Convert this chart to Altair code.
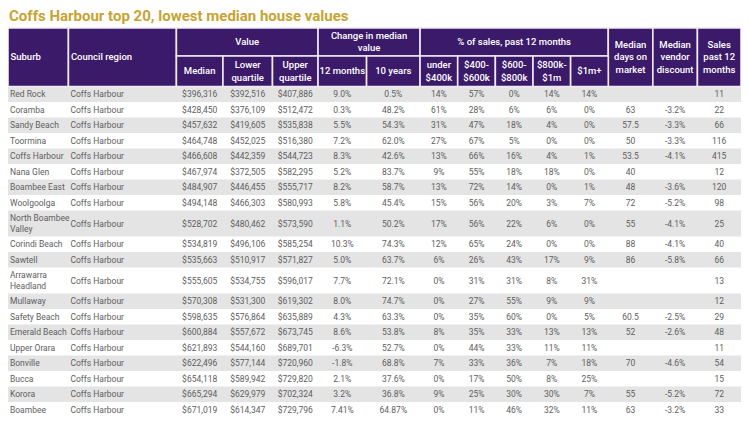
import altair as alt
import pandas as pd

# ---------------- data ----------------
title_text = "Coffs Harbour top 20, lowest median house values"

suburbs = ["Red Rock", "Coramba", "Sandy Beach", "Toormina", "Coffs Harbour", "Nana Glen",
           "Boambee East", "Woolgoolga", "North Boambee\nValley", "Corindi Beach", "Sawtell",
           "Arrawarra\nHeadland", "Mullaway", "Safety Beach", "Emerald Beach", "Upper Orara",
           "Bonville", "Bucca", "Korora", "Boambee"]
council = ["Coffs Harbour"] * 20
median = ["$396,316", "$428,450", "$457,632", "$464,748", "$466,608", "$467,974", "$484,907",
          "$494,148", "$528,702", "$534,819", "$535,663", "$555,605", "$570,308", "$598,635",
          "$600,884", "$621,893", "$622,496", "$654,118", "$665,294", "$671,019"]
lower_q = ["$392,516", "$376,109", "$419,605", "$452,025", "$442,359", "$372,505", "$446,455",
           "$466,303", "$480,462", "$496,106", "$510,917", "$534,755", "$531,300", "$576,864",
           "$557,672", "$544,160", "$577,144", "$589,942", "$629,979", "$614,347"]
upper_q = ["$407,886", "$512,472", "$535,838", "$516,380", "$544,723", "$582,295", "$555,717",
           "$580,993", "$573,590", "$585,254", "$571,827", "$596,017", "$619,302", "$635,889",
           "$673,745", "$689,701", "$720,960", "$729,820", "$702,324", "$729,796"]
chg_12m = ["9.0%", "0.3%", "5.5%", "7.2%", "8.3%", "5.2%", "8.2%", "5.8%", "1.1%", "10.3%",
           "5.0%", "7.7%", "8.0%", "4.3%", "8.6%", "-6.3%", "-1.8%", "2.1%", "3.2%", "7.41%"]
chg_10y = ["0.5%", "48.2%", "54.3%", "62.0%", "42.6%", "83.7%", "58.7%", "45.4%", "50.2%", "74.3%",
           "63.7%", "72.1%", "74.7%", "63.3%", "53.8%", "52.7%", "68.8%", "37.6%", "36.8%", "64.87%"]
under_400k = ["14%", "61%", "31%", "27%", "13%", "9%", "13%", "15%", "17%", "12%",
              "6%", "0%", "0%", "0%", "8%", "0%", "7%", "0%", "9%", "0%"]
s400_600k = ["57%", "28%", "47%", "67%", "66%", "55%", "72%", "56%", "56%", "65%",
             "26%", "31%", "27%", "35%", "35%", "44%", "33%", "17%", "25%", "11%"]
s600_800k = ["0%", "6%", "18%", "5%", "16%", "18%", "14%", "20%", "22%", "24%",
             "43%", "31%", "55%", "60%", "33%", "33%", "36%", "50%", "30%", "46%"]
s800k_1m = ["14%", "6%", "4%", "0%", "4%", "18%", "0%", "3%", "6%", "0%",
            "17%", "8%", "9%", "0%", "13%", "11%", "7%", "8%", "30%", "32%"]
s1m_plus = ["14%", "0%", "0%", "0%", "1%", "0%", "1%", "7%", "0%", "0%",
            "9%", "31%", "9%", "5%", "13%", "11%", "18%", "25%", "7%", "11%"]
days_on_market = ["", "63", "57.5", "50", "53.5", "40", "48", "72", "55", "88",
                  "86", "", "", "60.5", "52", "", "70", "", "55", "63"]
vendor_discount = ["", "-3.2%", "-3.3%", "-3.3%", "-4.1%", "", "-3.6%", "-5.2%", "-4.1%", "-4.1%",
                   "-5.8%", "", "", "-2.5%", "-2.6%", "", "-4.6%", "", "-5.2%", "-3.2%"]
sales_12m = ["11", "22", "66", "116", "415", "12", "120", "98", "25", "40",
             "66", "13", "12", "29", "48", "11", "54", "15", "72", "33"]

# header labels: (text, first column, last column)
header_top = [("Suburb", 0, 0), ("Council region", 1, 1), ("Value", 2, 4),
              ("Change in median\nvalue", 5, 6), ("% of sales, past 12 months", 7, 11),
              ("Median\ndays on\nmarket", 12, 12), ("Median\nvendor\ndiscount", 13, 13),
              ("Sales\npast 12\nmonths", 14, 14)]
header_sub = [("Median", 2), ("Lower\nquartile", 3), ("Upper\nquartile", 4), ("12 months", 5),
              ("10 years", 6), ("under\n$400k", 7), ("$400-\n$600k", 8), ("$600-\n$800k", 9),
              ("$800k-\n$1m", 10), ("$1m+", 11)]

# ---------------- layout ----------------
col_edges = [6, 67, 176, 223, 273, 319, 368, 422, 460, 498, 536, 574, 612, 657, 702, 746]
y_top, y_mid, y_bot = 28, 56, 86.5
row_single, row_double = 15.5, 26
HEAD_LH, CELL_LH = 12.5, 10.5
PURPLE = "#3c1a6a"
GREY_TEXT = "#5e5e5e"
SHADE = "#e4e4e4"
CELL_FONT = "Roboto"
HEAD_FONT = "Roboto"


def first_line_y(center, txt, lh):
    n = txt.count("\n") + 1
    return center - (n - 1) * lh / 2


columns = [suburbs, council, median, lower_q, upper_q, chg_12m, chg_10y, under_400k,
           s400_600k, s600_800k, s800k_1m, s1m_plus, days_on_market, vendor_discount, sales_12m]

band_recs, cell_left, cell_center = [], [], []
y = y_bot
for i in range(len(suburbs)):
    h = row_double if "\n" in suburbs[i] else row_single
    if i % 2 == 0:
        band_recs.append(dict(x=col_edges[0], x2=col_edges[-1], y=y, y2=y + h))
    ym = y + h / 2
    for j, col in enumerate(columns):
        txt = col[i]
        yy = first_line_y(ym, txt, CELL_LH)
        if j < 2:
            cell_left.append(dict(x=col_edges[j] + 2, y=yy, t=txt))
        else:
            cell_center.append(dict(x=(col_edges[j] + col_edges[j + 1]) / 2, y=yy, t=txt))
    y += h

head_rects, head_left, head_center = [], [], []
for txt, a, b in header_top:
    full = a < 2 or a >= 12
    y2 = y_bot if full else y_mid
    head_rects.append(dict(x=col_edges[a], x2=col_edges[b + 1], y=y_top, y2=y2))
    ym = first_line_y((y_top + y2) / 2, txt, HEAD_LH)
    if a < 2:
        head_left.append(dict(x=col_edges[a] + 2.5, y=ym, t=txt))
    else:
        head_center.append(dict(x=(col_edges[a] + col_edges[b + 1]) / 2, y=ym, t=txt))
for txt, a in header_sub:
    head_rects.append(dict(x=col_edges[a], x2=col_edges[a + 1], y=y_mid, y2=y_bot))
    head_center.append(dict(x=(col_edges[a] + col_edges[a + 1]) / 2,
                            y=first_line_y((y_mid + y_bot) / 2, txt, HEAD_LH), t=txt))

title_df = pd.DataFrame([dict(x=7, y=9, t=title_text)])

W, H = 733, 421
xs = alt.Scale(domain=[col_edges[0], col_edges[-1]], nice=False, zero=False)
ys = alt.Scale(domain=[8, 8 + H], reverse=True, nice=False, zero=False)
X = alt.X("x:Q", scale=xs, axis=None)
Y = alt.Y("y:Q", scale=ys, axis=None)

bands = alt.Chart(pd.DataFrame(band_recs)).mark_rect(fill=SHADE).encode(
    x=X, x2="x2:Q", y=Y, y2="y2:Q")
heads = alt.Chart(pd.DataFrame(head_rects)).mark_rect(
    fill=PURPLE, stroke="#efeaf5", strokeWidth=1.6).encode(x=X, x2="x2:Q", y=Y, y2="y2:Q")
htl = alt.Chart(pd.DataFrame(head_left)).mark_text(
    align="left", baseline="middle", color="white", fontSize=9.5, fontWeight=500,
    font=HEAD_FONT, lineBreak="\n", lineHeight=HEAD_LH).encode(x=X, y=Y, text="t:N")
htc = alt.Chart(pd.DataFrame(head_center)).mark_text(
    align="center", baseline="middle", color="white", fontSize=9.5, fontWeight=500,
    font=HEAD_FONT, lineBreak="\n", lineHeight=HEAD_LH).encode(x=X, y=Y, text="t:N")
ctl = alt.Chart(pd.DataFrame(cell_left)).mark_text(
    align="left", baseline="middle", color=GREY_TEXT, fontSize=8.5, font=CELL_FONT,
    lineBreak="\n", lineHeight=CELL_LH).encode(x=X, y=Y, text="t:N")
ctc = alt.Chart(pd.DataFrame(cell_center)).mark_text(
    align="center", baseline="middle", color=GREY_TEXT, fontSize=8.5, font=CELL_FONT,
    lineBreak="\n", lineHeight=CELL_LH).encode(x=X, y=Y, text="t:N")
ttl = alt.Chart(title_df).mark_text(
    align="left", baseline="top", color="#c6a432", fontSize=15, fontWeight="bold",
    font="Roboto").encode(x=X, y=Y, text="t:N")

chart = alt.layer(bands, heads, htl, htc, ctl, ctc, ttl).properties(
    width=W, height=H, padding=0, autosize=alt.AutoSizeParams(type="none")
).configure_view(stroke=None)

chart.save("out.html", embed_options={"renderer": "svg", "actions": False})
